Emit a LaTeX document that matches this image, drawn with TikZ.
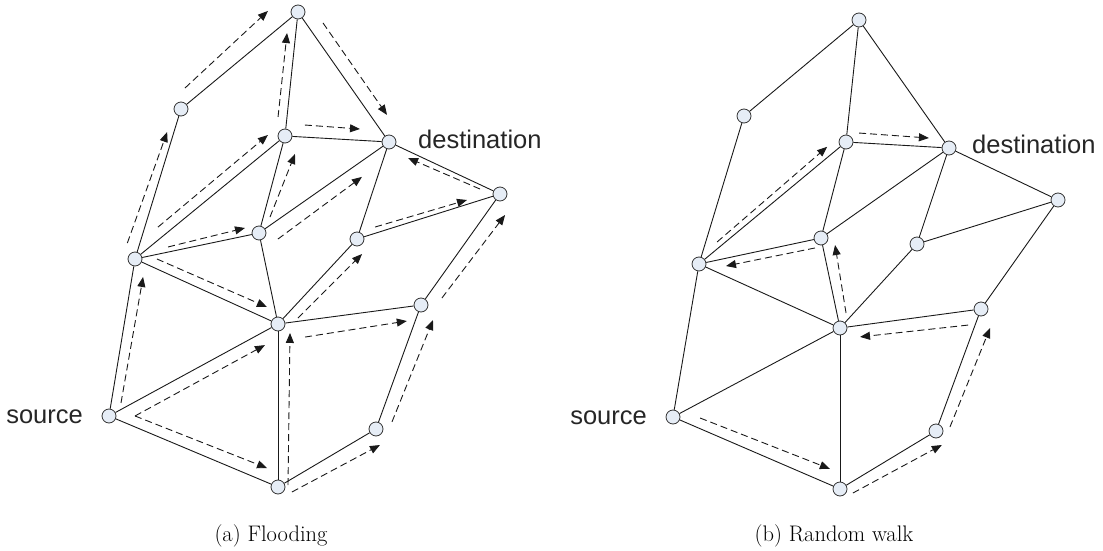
\documentclass[tikz,border=0pt]{standalone}
\usepackage{fontspec}
\newfontfamily\lblfont{Liberation Sans}
\usetikzlibrary{calc,arrows.meta}
\definecolor{nodefill}{RGB}{230,237,246}
\tikzset{
  vertex/.style={circle, draw=black!80, fill=nodefill, line width=0.8pt,
                 minimum size=14pt, inner sep=0pt},
  link/.style={draw=black!90, line width=0.9pt},
  flowline/.style={draw=black!90, line width=0.9pt, dash pattern=on 7pt off 4pt,
                   -{Triangle[length=10pt,width=8pt]}},
  lbl/.style={font=\lblfont\fontsize{25.5}{30}\selectfont, text=black!85, inner sep=0pt},
  captext/.style={font=\fontsize{22.5}{27}\selectfont, inner sep=0pt},
}
% dashed message arrow running beside the link #2--#3 of graph #1:
% from fraction #4 (side offset #5) to fraction #6 (side offset #7)
\newcommand\flow[7]{%
  \draw[flowline] ($(#1#2)!#4!(#1#3)!#5pt!90:(#1#3)$) --
                  ($(#1#2)!#6!(#1#3)!#7pt!90:(#1#3)$);}
\begin{document}
\begin{tikzpicture}[x=1pt,y=-1pt]
\useasboundingbox (0,0) rectangle (1103,551);

% ---- (a) flooding: vertices
\node[vertex] (a-T)  at (298,12)  {};
\node[vertex] (a-A)  at (181,109) {};
\node[vertex] (a-B)  at (285,136) {};
\node[vertex] (a-D)  at (389,142) {};
\node[vertex] (a-E)  at (500,194) {};
\node[vertex] (a-C)  at (259,233) {};
\node[vertex] (a-F)  at (357,239) {};
\node[vertex] (a-L)  at (135,259) {};
\node[vertex] (a-G)  at (278,324) {};
\node[vertex] (a-H)  at (421,305) {};
\node[vertex] (a-S)  at (109,416) {};
\node[vertex] (a-BT) at (278,487) {};
\node[vertex] (a-K)  at (376,429) {};

% ---- (b) random walk: vertices
\node[vertex] (b-T)  at (859,20)  {};
\node[vertex] (b-A)  at (744,116) {};
\node[vertex] (b-B)  at (846,142) {};
\node[vertex] (b-D)  at (949,148) {};
\node[vertex] (b-E)  at (1058,200) {};
\node[vertex] (b-C)  at (821,238) {};
\node[vertex] (b-F)  at (917,244) {};
\node[vertex] (b-L)  at (699,264) {};
\node[vertex] (b-G)  at (840,328) {};
\node[vertex] (b-H)  at (981,309) {};
\node[vertex] (b-S)  at (673,417) {};
\node[vertex] (b-BT) at (840,489) {};
\node[vertex] (b-K)  at (936,431) {};

% ---- links (same topology in both graphs)
\foreach \p in {a-,b-}{
  \foreach \u/\v in {A/T, T/B, T/D, A/L, L/B, L/C, B/C, B/D, C/D, D/F, D/E, F/E,
                     C/G, L/G, L/S, S/G, S/BT, G/BT, G/F, G/H, H/E, H/K, K/BT}
    \draw[link] (\p\u) -- (\p\v);
}

% ---- (a) flooding messages
\flow{a-}{A}{T}{0.108}{13.6}{0.852}{20}
\flow{a-}{B}{T}{0.146}{8.9}{0.823}{8.7}
\flow{a-}{T}{D}{0.147}{14.2}{0.853}{13.9}
\flow{a-}{L}{A}{0.083}{12}{0.834}{6.5}
\flow{a-}{L}{B}{0.196}{10.1}{0.935}{11.6}
\flow{a-}{C}{B}{0.182}{-6.5}{0.853}{-14.3}
\flow{a-}{L}{C}{0.275}{5}{0.90}{7.8}
\flow{a-}{B}{D}{0.185}{12.1}{0.715}{11.3}
\flow{a-}{C}{D}{0.076}{-15.8}{0.734}{-13.1}
\flow{a-}{E}{D}{0.165}{4}{0.804}{6.4}
\flow{a-}{F}{E}{0.139}{6}{0.778}{4.2}
\flow{a-}{H}{E}{0.131}{-13}{0.896}{-16.3}
\flow{a-}{G}{F}{0.155}{-10.6}{0.935}{-13.9}
\flow{a-}{L}{G}{0.127}{9.1}{0.891}{10.9}
\flow{a-}{S}{L}{0.093}{-9.7}{0.897}{-10.9}
\flow{a-}{S}{G}{0.119}{-12.4}{0.888}{-12.3}
\flow{a-}{S}{BT}{0.131}{10.1}{0.905}{13.2}
\flow{a-}{BT}{G}{0.012}{-10}{0.945}{-12}
\flow{a-}{G}{H}{0.174}{-16.5}{0.888}{-14}
\flow{a-}{BT}{K}{0.083}{-11.4}{0.958}{-15.8}
\flow{a-}{K}{H}{0.092}{-12.6}{0.924}{-16.4}

% ---- (b) random walk path
\flow{b-}{S}{BT}{0.139}{9.8}{0.905}{14.5}
\flow{b-}{BT}{K}{0.08}{-10.1}{0.98}{-15}
\flow{b-}{K}{H}{0.066}{-11.7}{0.887}{-15.1}
\flow{b-}{H}{G}{0.105}{14.2}{0.869}{11.5}
\flow{b-}{G}{C}{0.146}{-9}{0.894}{-12.3}
\flow{b-}{C}{L}{0.064}{8.5}{0.792}{7.6}
\flow{b-}{L}{B}{0.147}{5.4}{0.908}{8.3}
\flow{b-}{B}{D}{0.121}{9.7}{0.80}{8.8}

% ---- labels
\node[lbl, anchor=base east] (a-src) at (83,423)  {source};
\node[lbl, anchor=base west] (a-dst) at (418,148) {destination};
\node[lbl, anchor=base east] (b-src) at (647,424) {source};
\node[lbl, anchor=base west] (b-dst) at (972,153) {destination};

% ---- captions
\node[captext, anchor=base] (a-cap) at (271,541) {(a) Flooding};
\node[captext, anchor=base] (b-cap) at (834,541) {(b) Random walk};
\end{tikzpicture}
\end{document}
